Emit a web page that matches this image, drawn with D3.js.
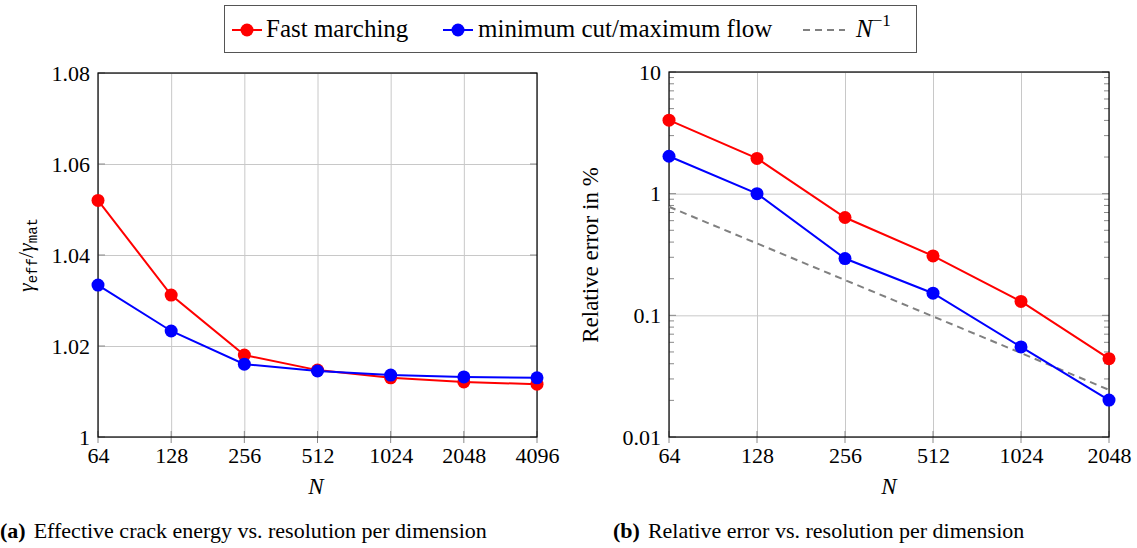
<!DOCTYPE html>
<html>
<head>
<meta charset="utf-8">
<script src="https://cdn.jsdelivr.net/npm/d3@7"></script>
</head>
<body style="margin:0; background:#fff">
<svg id="chart" width="1137" height="548" font-family="Liberation Serif"></svg>
<script>
const svg = d3.select('#chart')
const serif = 'Liberation Serif'
const mono = 'Liberation Mono'

// data
const resolutionsA = [64, 128, 256, 512, 1024, 2048, 4096]
const fastMarchingA = [1.052, 1.0312, 1.018, 1.0147, 1.013, 1.0121, 1.0116]
const minCutA = [1.0334, 1.0233, 1.016, 1.0145, 1.0136, 1.0132, 1.013]

const resolutionsB = [64, 128, 256, 512, 1024, 2048]
const fastMarchingB = [4.02, 1.95, 0.637, 0.308, 0.130, 0.044]
const minCutB = [2.03, 1.0, 0.293, 0.152, 0.055, 0.0201]
const referenceB = [0.78, 0.39, 0.195, 0.098, 0.049, 0.0244] // N^-1 guide

const yTicksA = [1, 1.02, 1.04, 1.06, 1.08]
const yTicksB = [0.01, 0.1, 1, 10]

const red = '#ff0000'
const blue = '#0000ff'
const gridColor = '#c8c8c8'
const tickColor = '#8a8a8a'

// panel (a)
const plotTop = 73, plotBottom = 437
const xA = d3.scaleLog().base(2).domain([64, 4096]).range([98, 537])
const yA = d3.scaleLinear().domain([1, 1.08]).range([plotBottom, plotTop])

// panel (b)
const xB = d3.scaleLog().base(2).domain([64, 2048]).range([669, 1109])
const yB = d3.scaleLog().domain([0.01, 10]).range([plotBottom, 72])

const drawPanel = (x, y, xVals, yVals, minor) => {
	const g = svg.append('g')
	const [x0, x1] = x.range()
	const [y0, y1] = y.range()

	// grid
	g.append('g')
		.attr('transform', `translate(0, ${y0})`)
		.call(d3.axisBottom(x).tickValues(xVals).tickSize(-(y0 - y1)).tickFormat(''))
		.call(s => s.selectAll('.tick line').attr('stroke', gridColor))
		.call(s => s.select('.domain').remove())
	g.append('g')
		.attr('transform', `translate(${x0}, 0)`)
		.call(d3.axisLeft(y).tickValues(yVals).tickSize(-(x1 - x0)).tickFormat(''))
		.call(s => s.selectAll('.tick line').attr('stroke', gridColor))
		.call(s => s.select('.domain').remove())

	// inner tick marks on left and right
	const ticks = yVals.map(v => ({v, len: 7})).concat(minor.map(v => ({v, len: 5})))
	g.selectAll('line.ytl').data(ticks).enter().append('line')
		.attr('x1', x0).attr('x2', d => x0 + d.len)
		.attr('y1', d => y(d.v)).attr('y2', d => y(d.v))
		.attr('stroke', tickColor)
	g.selectAll('line.ytr').data(ticks).enter().append('line')
		.attr('x1', x1).attr('x2', d => x1 - d.len)
		.attr('y1', d => y(d.v)).attr('y2', d => y(d.v))
		.attr('stroke', tickColor)
	// bottom tick marks
	g.selectAll('line.xtb').data(xVals).enter().append('line')
		.attr('x1', d => x(d)).attr('x2', d => x(d))
		.attr('y1', y0 - 6).attr('y2', y0 + 6)
		.attr('stroke', tickColor)

	// labels
	g.append('g')
		.attr('transform', `translate(0, ${y0})`)
		.call(d3.axisBottom(x).tickValues(xVals).tickSize(0).tickPadding(10).tickFormat(d3.format('d')))
		.call(s => s.select('.domain').remove())
		.call(s => s.selectAll('text').attr('font-size', 22).attr('dy', '0.72em'))
	g.append('g')
		.attr('transform', `translate(${x0}, 0)`)
		.call(d3.axisLeft(y).tickValues(yVals).tickSize(0).tickPadding(8).tickFormat(d => String(d)))
		.call(s => s.select('.domain').remove())
		.call(s => s.selectAll('text').attr('font-size', 22).attr('dy', '0.33em'))

	// frame
	g.append('rect')
		.attr('x', x0).attr('y', y1)
		.attr('width', x1 - x0).attr('height', y0 - y1)
		.attr('fill', 'none').attr('stroke', '#000').attr('stroke-width', 1.2)
	return g
}

const drawSeries = (g, x, y, xs, ys, color) => {
	const pts = xs.map((n, i) => [n, ys[i]])
	g.append('path')
		.datum(pts)
		.attr('d', d3.line().x(d => x(d[0])).y(d => y(d[1])))
		.attr('fill', 'none').attr('stroke', color).attr('stroke-width', 2)
	g.selectAll(null).data(pts).enter().append('circle')
		.attr('cx', d => x(d[0])).attr('cy', d => y(d[1]))
		.attr('r', 6.5).attr('fill', color)
}

const gA = drawPanel(xA, yA, resolutionsA, yTicksA, [])
drawSeries(gA, xA, yA, resolutionsA, fastMarchingA, red)
drawSeries(gA, xA, yA, resolutionsA, minCutA, blue)

const minorB = []
yTicksB.slice(0, -1).forEach(dec => { for (let k = 2; k <= 9; k++) minorB.push(dec * k) })
const gB = drawPanel(xB, yB, resolutionsB, yTicksB, minorB)
gB.append('path')
	.datum(resolutionsB.map((n, i) => [n, referenceB[i]]))
	.attr('d', d3.line().x(d => xB(d[0])).y(d => yB(d[1])))
	.attr('fill', 'none').attr('stroke', '#808080').attr('stroke-width', 2)
	.attr('stroke-dasharray', '7 5')
drawSeries(gB, xB, yB, resolutionsB, fastMarchingB, red)
drawSeries(gB, xB, yB, resolutionsB, minCutB, blue)

// axis titles
svg.append('text').attr('x', 316).attr('y', 494).attr('text-anchor', 'middle')
	.attr('font-size', 23).attr('font-style', 'italic').text('N')
svg.append('text').attr('x', 889).attr('y', 494).attr('text-anchor', 'middle')
	.attr('font-size', 23).attr('font-style', 'italic').text('N')

const yl = svg.append('text')
	.attr('transform', 'translate(33, 255) rotate(-90)')
	.attr('text-anchor', 'middle').attr('font-size', 22)
yl.append('tspan').attr('font-style', 'italic').text('γ')
yl.append('tspan').attr('class', 'mono').attr('font-size', 14).attr('dy', 4).text('eff')
yl.append('tspan').attr('dy', -4).text('/')
yl.append('tspan').attr('font-style', 'italic').text('γ')
yl.append('tspan').attr('class', 'mono').attr('font-size', 14).attr('dy', 4).text('mat')

svg.append('text')
	.attr('transform', 'translate(598, 255) rotate(-90)')
	.attr('text-anchor', 'middle').attr('font-size', 23)
	.text('Relative error in %')

// legend
const legend = svg.append('g')
legend.append('rect').attr('x', 224.5).attr('y', 5.5).attr('width', 692).attr('height', 47)
	.attr('fill', '#fff').attr('stroke', '#555').attr('stroke-width', 1)
const legendItems = [
	{label: 'Fast marching', color: red, x: 232, tx: 266, dash: null},
	{label: 'minimum cut/maximum flow', color: blue, x: 443, tx: 478, dash: null},
	{label: 'N', color: '#808080', x: 803, tx: 856, dash: '7 5'}
]
legendItems.forEach(d => {
	legend.append('line').attr('x1', d.x).attr('x2', d.x + (d.dash ? 42 : 30))
		.attr('y1', 30).attr('y2', 30)
		.attr('stroke', d.color).attr('stroke-width', 2).attr('stroke-dasharray', d.dash)
	if (!d.dash) legend.append('circle').attr('cx', d.x + 15).attr('cy', 30).attr('r', 6.5).attr('fill', d.color)
	const t = legend.append('text').attr('x', d.tx).attr('y', 37).attr('font-size', 25)
	if (d.dash) {
		t.append('tspan').attr('font-style', 'italic').text(d.label)
		t.append('tspan').attr('font-size', 17).attr('dy', -11).text('−1')
	} else t.text(d.label)
})

// captions
const captions = [
	{tag: '(a)', text: 'Effective crack energy vs. resolution per dimension', x: 0},
	{tag: '(b)', text: 'Relative error vs. resolution per dimension', x: 613}
]
captions.forEach(c => {
	const t = svg.append('text').attr('x', c.x).attr('y', 538).attr('font-size', 22)
	t.append('tspan').attr('font-weight', 'bold').text(c.tag)
	t.append('tspan').attr('dx', 8).text(c.text)
})

// fonts as attributes on every text
svg.selectAll('g').attr('font-family', serif)
svg.selectAll('text').attr('font-family', serif).attr('fill', '#000')
svg.selectAll('tspan.mono').attr('font-family', mono)
</script>
</body>
</html>
